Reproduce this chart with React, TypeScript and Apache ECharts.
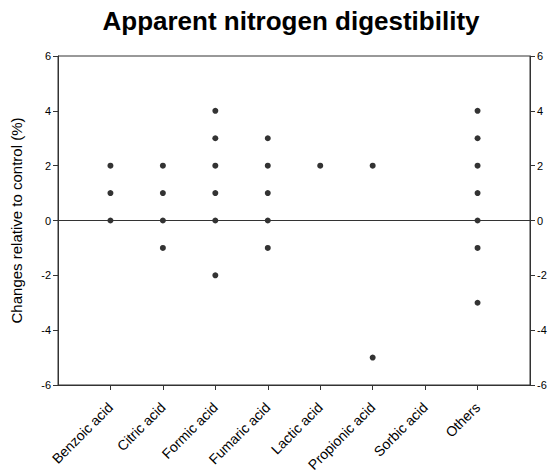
import React, { useEffect, useRef } from "react";
import * as echarts from "echarts";

const categories = [
  "Benzoic acid",
  "Citric acid",
  "Formic acid",
  "Fumaric acid",
  "Lactic acid",
  "Propionic acid",
  "Sorbic acid",
  "Others",
];
const benzoic = [2, 1, 0];
const citric = [2, 1, 0, -1];
const formic = [4, 3, 2, 1, 0, -2];
const fumaric = [3, 2, 1, 0, -1];
const lactic = [2];
const propionic = [2, -5];
const sorbic: number[] = [];
const others = [4, 3, 2, 1, 0, -1, -3];
const seriesValues = [benzoic, citric, formic, fumaric, lactic, propionic, sorbic, others];
const yTicks = [-6, -4, -2, 0, 2, 4, 6];

export default function App() {
  const ref = useRef<HTMLDivElement>(null);
  useEffect(() => {
    if (!ref.current) return;
    const chart = echarts.init(ref.current, undefined, { renderer: "svg" });
    const points: [number, number][] = [];
    seriesValues.forEach((vals, i) => vals.forEach((v) => points.push([i + 1, v])));
    const font = "'Liberation Sans', Arial, sans-serif";
    const yAxisBase = {
      type: "value" as const,
      min: yTicks[0],
      max: yTicks[yTicks.length - 1],
      interval: 2,
      splitLine: { show: false },
      axisLine: { show: true, lineStyle: { color: "#333", width: 1 } },
      axisTick: { show: true, length: 5, inside: false, lineStyle: { color: "#333" } },
      axisLabel: { color: "#000", fontSize: 11, fontFamily: font, margin: 7 },
    };
    chart.setOption({
      animation: false,
      title: {
        text: "Apparent nitrogen digestibility",
        left: 286,
        textAlign: "center",
        top: 3,
        textStyle: { fontSize: 26, fontWeight: "bold", color: "#000", fontFamily: font },
      },
      grid: {
        left: 58,
        right: 27,
        top: 56,
        bottom: 87,
        containLabel: false,
        outerBoundsMode: "none",
        show: true,
        borderColor: "#333",
        borderWidth: 1,
        backgroundColor: "transparent",
      },
      xAxis: {
        type: "value",
        min: 0,
        max: categories.length + 1,
        interval: 1,
        splitLine: { show: false },
        axisLine: { show: true, onZero: false, lineStyle: { color: "#333" } },
        axisTick: {
          show: true,
          length: 5,
          lineStyle: { color: "#333" },
          customValues: categories.map((_, i) => i + 1),
        },
        axisLabel: {
          rotate: 45,
          fontSize: 14,
          color: "#000",
          fontFamily: font,
          margin: 20,
          customValues: categories.map((_, i) => i + 1),
          formatter: (v: number) => categories[Math.round(v) - 1] ?? "",
        },
      },
      yAxis: [
        {
          ...yAxisBase,
          position: "left",
          name: "Changes relative to control (%)",
          nameLocation: "middle",
          nameRotate: 90,
          nameGap: 34,
          nameTextStyle: { fontSize: 15, color: "#000", fontFamily: font },
        },
        { ...yAxisBase, position: "right" },
      ],
      series: [
        {
          type: "scatter",
          data: points,
          symbol: "circle",
          symbolSize: 6,
          itemStyle: { color: "#000" },
          markLine: {
            silent: true,
            symbol: "none",
            label: { show: false },
            lineStyle: { color: "#333", width: 1, type: "solid" },
            data: [{ yAxis: 0 }],
          },
        },
      ],
    });
    return () => chart.dispose();
  }, []);
  return <div ref={ref} style={{ width: 557, height: 472, position: "absolute", left: 0, top: 0 }} />;
}
